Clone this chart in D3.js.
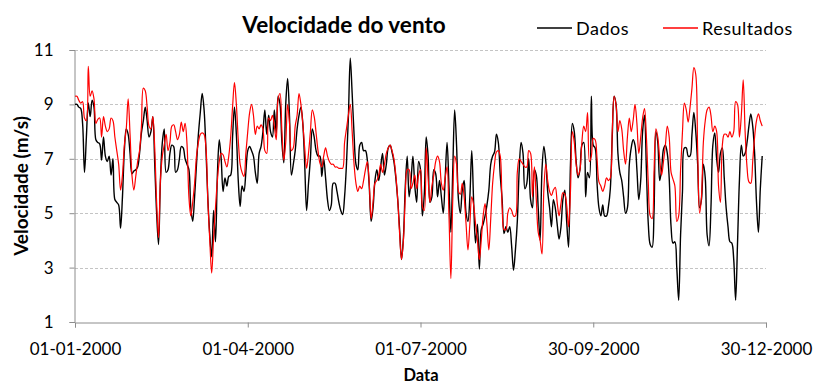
<!DOCTYPE html>
<html>
<head>
<meta charset="utf-8">
<script src="https://cdn.jsdelivr.net/npm/d3@7/dist/d3.min.js"></script>
<style>
  html, body { margin: 0; padding: 0; background: #fff; }
  svg { display: block; font-family: Lato, "Open Sans", sans-serif; }
</style>
</head>
<body>
<svg id="chart" width="818" height="387"></svg>
<script>
// Daily wind speed for the year 2000 (m/s), starting on 01-01-2000
const startDate = "2000-01-01";

const dados = [
  9.0,9.0,8.9,8.85,8.3,6.5,7.8,9.05,8.55,9.15,
  8.9,7.7,7.6,7.55,6.95,7.8,7.1,6.9,7.1,6.4,
  7.0,5.5,5.4,5.3,4.45,5.6,7.3,8.1,7.9,7.2,
  6.45,6.55,6.6,6.7,7.2,7.95,8.4,8.9,8.4,7.8,
  8.0,8.55,6.8,5.0,3.85,6.2,7.6,8.1,6.5,6.6,
  7.2,7.5,7.45,6.5,6.6,7.0,7.45,7.4,7.0,6.8,
  6.6,5.2,4.7,5.6,6.8,7.9,8.7,9.4,8.8,7.3,
  5.5,4.2,3.4,5.1,3.95,6.4,7.7,7.0,5.8,6.3,
  6.0,6.35,6.4,7.8,8.9,7.9,6.2,5.25,6.0,5.8,
  6.5,7.3,7.45,7.3,7.1,6.5,6.1,7.2,7.45,8.0,
  8.8,7.9,8.6,8.0,7.8,8.8,7.95,9.3,9.0,7.6,
  6.85,9.0,9.95,8.55,6.4,6.8,7.3,8.1,8.6,8.9,
  8.3,6.8,5.1,6.1,7.0,8.1,7.8,7.3,7.1,7.1,
  6.35,7.0,6.3,5.5,5.1,5.3,6.1,6.1,5.8,5.4,
  5.1,4.95,5.6,6.8,8.5,10.7,9.4,7.9,6.8,6.6,
  7.5,7.6,7.3,7.3,6.95,6.0,4.7,5.2,6.2,6.6,
  6.2,6.7,7.2,6.4,6.8,7.4,7.5,7.25,6.9,6.3,
  5.5,4.4,3.3,4.1,6.0,7.1,5.6,6.2,7.1,6.0,
  5.4,6.9,6.6,4.9,5.7,7.8,7.1,5.4,5.6,6.6,
  6.45,5.6,6.2,5.6,5.0,6.3,7.6,6.0,4.3,6.6,
  8.8,7.5,5.5,5.0,5.85,6.2,5.0,4.7,5.6,7.3,
  5.4,3.9,4.6,2.95,4.4,4.6,4.9,5.3,5.85,6.8,
  7.1,7.25,7.9,7.6,6.4,5.5,4.25,4.5,4.3,4.5,
  3.8,2.9,3.65,4.7,6.6,7.6,7.2,5.9,6.1,7.0,
  5.5,5.2,6.6,6.4,5.2,4.0,6.6,7.45,6.9,5.8,
  5.2,4.5,5.5,5.2,4.6,4.05,4.5,5.5,5.85,4.7,
  3.75,6.8,8.3,8.0,6.9,6.3,6.6,7.5,7.6,5.6,
  6.5,6.3,9.3,7.5,7.4,6.1,5.2,4.9,5.3,4.9,
  4.9,5.25,5.9,7.8,9.3,9.0,7.2,6.5,6.2,5.6,
  5.0,5.2,6.8,7.4,7.7,7.5,6.6,5.5,6.2,8.0,
  8.6,6.6,4.6,3.85,3.75,5.0,8.0,7.6,6.2,6.6,
  7.35,7.5,7.2,6.3,4.5,3.9,3.95,3.0,1.8,4.2,
  5.8,7.4,7.4,7.1,7.1,7.9,8.7,8.0,6.8,5.2,
  5.5,6.8,6.3,4.2,3.8,5.2,7.5,7.95,7.0,6.5,
  7.2,7.4,6.3,5.2,4.5,3.95,3.9,3.3,1.8,3.9,
  6.2,7.5,7.1,7.2,7.6,8.2,8.65,8.2,7.2,5.4,
  4.3,5.9,7.1
];

const resultados = [
  9.3,9.3,9.15,9.05,9.1,8.5,8.4,10.4,9.3,9.5,
  9.2,8.3,8.45,8.5,7.8,8.55,8.2,8.0,8.1,8.5,
  8.4,7.8,7.3,6.8,5.85,6.4,7.5,8.1,9.2,7.9,
  6.4,5.85,6.35,6.9,7.3,8.2,9.6,9.5,8.9,8.2,
  8.1,8.55,7.4,5.4,4.1,6.2,7.1,7.5,7.9,7.3,
  7.6,8.2,8.25,8.0,7.7,7.9,8.35,8.0,8.3,7.55,
  5.6,4.9,5.4,6.1,7.1,7.6,7.9,7.95,7.9,7.4,
  5.4,4.0,2.8,4.1,5.2,6.2,6.9,7.2,7.15,6.9,
  6.7,7.1,7.8,8.9,9.8,9.0,7.7,6.8,6.5,6.35,
  7.2,8.0,8.7,9.0,8.6,7.9,8.2,8.1,8.25,8.1,
  7.3,7.2,8.5,8.4,8.6,8.2,7.7,9.2,9.4,8.0,
  6.95,7.6,9.0,8.3,7.3,7.4,8.2,8.6,9.4,9.0,
  8.3,7.4,6.65,7.2,8.0,8.8,8.55,7.95,7.3,6.85,
  6.7,7.1,7.4,7.1,6.9,6.8,6.8,6.7,6.7,6.65,
  6.65,6.65,7.6,8.1,8.6,9.0,8.0,6.8,6.1,5.8,
  6.0,5.9,6.2,6.6,6.9,6.1,4.8,5.4,6.1,6.2,
  6.4,6.8,6.5,6.8,7.2,7.4,7.5,7.3,7.0,6.4,
  5.5,4.25,3.3,4.0,5.6,6.6,6.6,5.9,6.1,6.4,
  5.9,6.4,6.6,5.25,5.1,7.4,6.3,5.4,6.0,6.4,
  6.9,7.1,6.9,6.1,5.85,6.3,6.7,4.9,2.6,5.5,
  7.1,6.8,5.8,5.7,6.1,5.6,4.6,3.65,4.6,5.6,
  5.3,4.6,4.0,3.3,4.0,4.9,5.35,4.6,3.65,4.8,
  6.1,6.8,7.25,7.3,7.1,5.25,4.4,4.4,5.0,5.2,
  5.1,4.9,4.9,6.5,7.0,6.9,6.8,6.7,6.7,7.3,
  7.2,5.6,6.7,5.5,4.3,4.0,3.5,5.9,6.8,6.2,
  5.8,5.65,5.85,5.95,5.4,4.9,5.35,5.75,5.7,5.3,
  4.5,5.8,8.0,7.6,6.8,6.4,6.6,7.6,8.2,8.0,
  8.7,6.9,7.1,7.75,7.7,7.0,6.15,6.0,5.8,6.0,
  6.3,6.2,6.3,8.0,9.3,9.0,8.0,8.4,8.1,7.3,
  6.8,7.8,8.5,8.0,8.4,9.0,8.3,7.2,7.8,8.5,
  8.85,7.8,6.1,4.9,4.8,6.5,8.1,7.8,7.0,6.4,
  6.9,7.5,8.2,7.8,6.5,6.25,6.0,4.7,4.9,6.6,
  8.0,9.05,8.8,8.35,8.9,9.6,10.35,10.1,7.3,5.0,
  5.6,7.6,8.4,8.8,8.9,8.6,8.0,8.2,8.0,6.0,
  5.4,7.5,7.9,7.9,7.8,8.0,7.8,8.0,9.1,9.0,
  7.8,8.6,9.9,8.0,6.7,6.15,6.1,6.9,7.8,8.4,
  8.65,8.4,8.2
];

const xTickDates = ["2000-01-01", "2000-04-01", "2000-07-01", "2000-09-30", "2000-12-30"];
const yTickValues = [1, 3, 5, 7, 9, 11];

const svg = d3.select("#chart");
const margin = { left: 75, right: 52, top: 50, bottom: 65 };
const W = 818, H = 387;

const parse = d3.utcParse("%Y-%m-%d");
const fmt = d3.utcFormat("%d-%m-%Y");
const t0 = parse(startDate);
const dateAt = i => d3.utcDay.offset(t0, i);

const x = d3.scaleUtc()
  .domain([parse(xTickDates[0]), parse(xTickDates[xTickDates.length - 1])])
  .range([margin.left, W - margin.right]);
const y = d3.scaleLinear().domain([1, 11]).range([H - margin.bottom, margin.top]);

// horizontal gridlines
svg.append("g")
  .selectAll("line")
  .data(yTickValues.slice(1))
  .join("line")
  .attr("x1", margin.left).attr("x2", W - margin.right)
  .attr("y1", d => Math.round(y(d)) + 0.5).attr("y2", d => Math.round(y(d)) + 0.5)
  .attr("stroke", "#c4c4c4").attr("stroke-width", 1)
  .attr("stroke-dasharray", "3,2");

// axes
const axisColor = "#8c8c8c";
const gx = svg.append("g")
  .attr("transform", `translate(0,${Math.round(y(1)) + 0.5})`)
  .call(d3.axisBottom(x).tickValues(xTickDates.map(parse)).tickFormat(fmt).tickSize(5).tickPadding(15));
const gy = svg.append("g")
  .attr("transform", `translate(${margin.left - 0.5},0)`)
  .call(d3.axisLeft(y).tickValues(yTickValues).tickFormat(d3.format("d")).tickSize(5).tickPadding(16));
[gx, gy].forEach(g => {
  g.select(".domain").attr("stroke", axisColor);
  g.selectAll(".tick line").attr("stroke", axisColor);
  g.selectAll(".tick text").attr("fill", "#000").style("font-size", "17px")
    .style("font-family", "Lato, sans-serif");
});

// series lines
const line = values => d3.line()
  .x((d, i) => x(dateAt(i)))
  .y(d => y(d))
  .curve(d3.curveCatmullRom.alpha(0.5))(values);

svg.append("path").attr("d", line(dados))
  .attr("fill", "none").attr("stroke", "#000").attr("stroke-width", 1.4);
svg.append("path").attr("d", line(resultados))
  .attr("fill", "none").attr("stroke", "#ff0000").attr("stroke-width", 1.2);

// title
svg.append("text").attr("x", 344).attr("y", 33)
  .attr("text-anchor", "middle").style("font-weight", "bold").style("font-size", "22.5px")
  .text("Velocidade do vento");

// legend
const legend = [
  { name: "Dados", color: "#000", x: 537 },
  { name: "Resultados", color: "#ff0000", x: 663 }
];
const lg = svg.append("g").selectAll("g").data(legend).join("g")
  .attr("transform", d => `translate(${d.x},28)`);
lg.append("line").attr("x1", 0).attr("x2", 35).attr("y1", 0).attr("y2", 0)
  .attr("stroke", d => d.color).attr("stroke-width", 1.4);
lg.append("text").attr("x", 39).attr("y", 6.5).style("font-size", "18px")
  .style("letter-spacing", "0.5px")
  .text(d => d.name);

// axis titles
svg.append("text").attr("x", 421).attr("y", 381)
  .attr("text-anchor", "middle").style("font-weight", "bold").style("font-size", "16.5px")
  .text("Data");
svg.append("text")
  .attr("transform", `translate(28,${(y(1) + y(11)) / 2}) rotate(-90)`)
  .attr("text-anchor", "middle").style("font-weight", "bold").style("font-size", "19px")
  .text("Velocidade (m/s)");
</script>
</body>
</html>
